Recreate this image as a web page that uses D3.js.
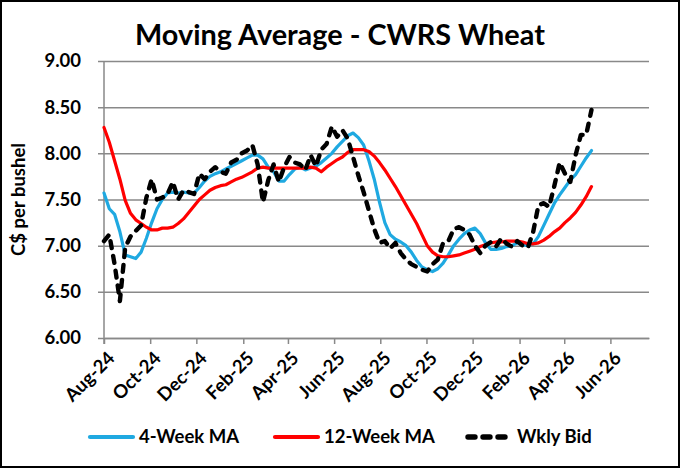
<!DOCTYPE html>
<html>
<head>
<meta charset="utf-8">
<script src="https://cdn.jsdelivr.net/npm/d3@7"></script>
<style>
  html, body { margin: 0; padding: 0; background: #fff; }
  svg { display: block; font-family: Lato, "Open Sans", sans-serif; font-weight: bold; }
</style>
</head>
<body>
<svg id="chart" width="680" height="468"></svg>
<script>
// weekly series, first week 2024-08-01
var startDate = "2024-08-01";
var wklyBid = [7.05, 7.12, 6.80, 6.40, 6.98, 7.10, 7.16, 7.22, 7.52, 7.72,
  7.50, 7.52, 7.56, 7.69, 7.50, 7.60, 7.58, 7.56, 7.78, 7.72,
  7.80, 7.85, 7.80, 7.78, 7.90, 7.93, 8.00, 8.03, 8.09, 7.88,
  7.47, 7.71, 7.88, 7.69, 7.85, 7.96, 7.90, 7.88, 7.82, 7.98,
  7.86, 8.04, 8.10, 8.29, 8.18, 8.25, 8.16, 7.96, 7.76, 7.58,
  7.38, 7.18, 7.03, 7.05, 6.97, 7.03, 6.92, 6.85, 6.80, 6.77,
  6.74, 6.72, 6.80, 6.85, 7.03, 7.05, 7.18, 7.20, 7.17, 7.12,
  7.00, 6.92, 7.00, 7.04, 6.99, 7.08, 7.02, 6.99, 7.05, 7.00,
  6.98, 7.15, 7.44, 7.46, 7.42, 7.65, 7.90, 7.78, 7.69, 7.98,
  8.20, 8.20, 8.47];
var ma4 = [7.57, 7.40, 7.34, 7.15, 6.90, 6.88, 6.86, 6.93, 7.08, 7.25,
  7.40, 7.50, 7.57, 7.58, 7.57, 7.58, 7.57, 7.57, 7.63, 7.70,
  7.75, 7.78, 7.80, 7.83, 7.86, 7.89, 7.92, 7.95, 7.98, 7.98,
  7.94, 7.85, 7.80, 7.70, 7.70, 7.77, 7.83, 7.85, 7.82, 7.84,
  7.86, 7.90, 7.95, 8.00, 8.07, 8.13, 8.19, 8.22, 8.17, 8.09,
  7.92, 7.72, 7.47, 7.25, 7.12, 7.07, 7.04, 7.00, 6.93, 6.84,
  6.77, 6.74, 6.72, 6.75, 6.81, 6.90, 7.00, 7.07, 7.13, 7.17,
  7.19, 7.13, 7.03, 6.96, 6.96, 6.97, 6.99, 7.00, 7.03, 7.01,
  7.00, 7.02, 7.10, 7.22, 7.34, 7.46, 7.55, 7.63, 7.71, 7.77,
  7.86, 7.95, 8.03];
var ma12 = [8.28, 8.12, 7.92, 7.72, 7.49, 7.35, 7.28, 7.24, 7.20, 7.17,
  7.17, 7.19, 7.19, 7.20, 7.24, 7.29, 7.36, 7.43, 7.50, 7.55,
  7.60, 7.63, 7.65, 7.66, 7.69, 7.72, 7.74, 7.77, 7.80, 7.84,
  7.85, 7.84, 7.84, 7.84, 7.84, 7.84, 7.84, 7.84, 7.84, 7.85,
  7.84, 7.80, 7.85, 7.89, 7.93, 7.96, 8.01, 8.04, 8.04, 8.04,
  8.02, 7.97, 7.90, 7.82, 7.73, 7.64, 7.54, 7.44, 7.34, 7.24,
  7.12, 7.00, 6.93, 6.89, 6.88, 6.88, 6.89, 6.90, 6.92, 6.94,
  6.96, 6.99, 7.01, 7.03, 7.04, 7.04, 7.05, 7.05, 7.05, 7.04,
  7.02, 7.02, 7.03, 7.06, 7.10, 7.15, 7.19, 7.25, 7.30, 7.36,
  7.44, 7.53, 7.64];
var tickMonths = ["2024-08-01", "2024-10-01", "2024-12-01", "2025-02-01", "2025-04-01", "2025-06-01",
  "2025-08-01", "2025-10-01", "2025-12-01", "2026-02-01", "2026-04-01", "2026-06-01"];
var yTicks = [6.00, 6.50, 7.00, 7.50, 8.00, 8.50, 9.00];
var seriesNames = ["4-Week MA", "12-Week MA", "Wkly Bid"];

var svg = d3.select("#chart"),
    W = 680, H = 468,
    margin = {top: 61, right: 31, bottom: 130, left: 104},
    parse = d3.timeParse("%Y-%m-%d"),
    fmt = d3.timeFormat("%b-%y"),
    fs = 18.5;

var t0 = parse(startDate),
    dates = wklyBid.map(function (d, i) { return d3.timeWeek.offset(t0, i); });

var x = d3.scaleTime()
    .domain([parse("2024-08-01"), parse("2026-07-22")])
    .range([margin.left, W - margin.right]);
var y = d3.scaleLinear()
    .domain([6, 9])
    .range([H - margin.bottom, margin.top]);

// outer frame
svg.append("rect").attr("x", 1).attr("y", 1).attr("width", W - 2).attr("height", H - 2)
    .attr("fill", "#fff").attr("stroke", "#000").attr("stroke-width", 2);

// title
var title = svg.append("text").attr("x", 340).attr("y", 45)
    .attr("text-anchor", "middle").attr("font-size", 28).attr("fill", "#000")
    .text("Moving Average - CWRS Wheat");
var tw = title.node().getComputedTextLength();
title.attr("font-size", 28 * 410 / tw);

// gridlines + y axis
var yAxis = d3.axisLeft(y).tickValues(yTicks).tickFormat(d3.format(".2f"))
    .tickSize(-(W - margin.right - margin.left + 6)).tickPadding(16);
var gy = svg.append("g").attr("transform", "translate(" + (margin.left - 6) + ",0)").call(yAxis);
gy.select(".domain").remove();
gy.selectAll(".tick line").attr("stroke", "#898989").attr("stroke-width", 1.5)
    .attr("x1", 0).attr("x2", W - margin.right - margin.left + 6);
gy.selectAll(".tick text").attr("font-size", fs).attr("fill", "#000")
    .attr("font-family", "Lato, sans-serif").attr("font-weight", "bold").attr("dx", -1);

svg.append("line").attr("x1", margin.left).attr("x2", margin.left)
    .attr("y1", margin.top).attr("y2", H - margin.bottom + 6)
    .attr("stroke", "#898989").attr("stroke-width", 1.5);

// x axis
var xAxis = d3.axisBottom(x).tickValues(tickMonths.map(parse)).tickFormat(fmt)
    .tickSize(6).tickSizeOuter(0);
var gx = svg.append("g").attr("transform", "translate(0," + (H - margin.bottom) + ")").call(xAxis);
gx.select(".domain").attr("stroke", "#898989").attr("stroke-width", 1.5);
gx.selectAll(".tick line").attr("stroke", "#898989").attr("stroke-width", 1.5);
gx.selectAll(".tick text").attr("font-size", fs).attr("fill", "#000")
    .attr("font-family", "Lato, sans-serif").attr("font-weight", "bold")
    .attr("text-anchor", "end").attr("dy", null)
    .attr("transform", "translate(8,18) rotate(-45)").attr("y", 0).attr("x", 0)
    .attr("dominant-baseline", "middle");

// y axis title
svg.append("text").attr("transform", "translate(25," + ((margin.top + H - margin.bottom) / 2) + ") rotate(-90)")
    .attr("text-anchor", "middle").attr("font-size", fs).attr("fill", "#000")
    .text("C$ per bushel");

// lines
var line = d3.line()
    .x(function (d, i) { return x(dates[i]); })
    .y(function (d) { return y(d); });

var styles = [
  {data: ma4, color: "#1FA9E1", width: 3.2, dash: null},
  {data: ma12, color: "#FF0000", width: 3.2, dash: null},
  {data: wklyBid, color: "#000000", width: 4.4, dash: "7,8"}
];
styles.forEach(function (s) {
  svg.append("path").datum(s.data)
      .attr("d", line)
      .attr("fill", "none")
      .attr("stroke", s.color)
      .attr("stroke-width", s.width)
      .attr("stroke-linejoin", "round")
      .attr("stroke-linecap", "round")
      .attr("stroke-dasharray", s.dash);
});

// legend
var legX = [90, 275, 468];
var leg = svg.append("g").selectAll("g").data(seriesNames).enter().append("g")
    .attr("transform", function (d, i) { return "translate(" + legX[i] + ",437)"; });
leg.append("line").attr("x1", 0).attr("x2", 43).attr("y1", 0).attr("y2", 0)
    .attr("stroke", function (d, i) { return styles[i].color; })
    .attr("stroke-width", function (d, i) { return styles[i].width + 1; })
    .attr("stroke-linecap", "round")
    .attr("stroke-dasharray", function (d, i) { return styles[i].dash; });
leg.append("text").attr("x", 49).attr("y", 0).attr("dy", "0.35em")
    .attr("font-size", fs).attr("fill", "#000")
    .text(function (d) { return d; });
</script>
</body>
</html>
